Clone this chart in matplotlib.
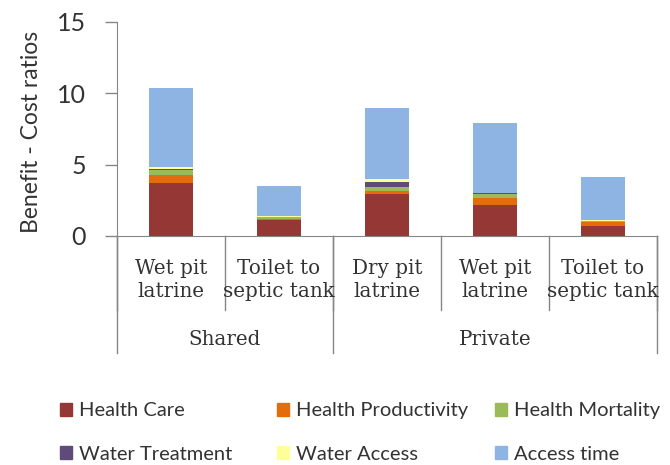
import matplotlib.pyplot as plt
from matplotlib.patches import Patch

# Categories (two-line labels) and groups
categories = ['Wet pit\nlatrine', 'Toilet to\nseptic tank', 'Dry pit\nlatrine',
              'Wet pit\nlatrine', 'Toilet to\nseptic tank']
groups = ['Shared', 'Private']
group_sizes = [2, 3]

# Stacked series values (benefit-cost ratios)
health_care = [3.7, 1.1, 2.95, 2.15, 0.7]
health_productivity = [0.55, 0.1, 0.2, 0.5, 0.25]
health_mortality = [0.4, 0.1, 0.3, 0.3, 0.1]
water_treatment = [0.05, 0.02, 0.35, 0.03, 0.02]
water_access = [0.15, 0.05, 0.2, 0.05, 0.05]
access_time = [5.55, 2.15, 4.95, 4.87, 2.98]

series = [
    ('Health Care', health_care, '#953735'),
    ('Health Productivity', health_productivity, '#E46C0A'),
    ('Health Mortality', health_mortality, '#9BBB59'),
    ('Water Treatment', water_treatment, '#604A7B'),
    ('Water Access', water_access, '#FFFF99'),
    ('Access time', access_time, '#8EB4E3'),
]

text_color = '#333333'
line_color = '#868686'

fig = plt.figure(figsize=(6.7, 4.65), dpi=100)
ax = fig.add_axes([0.1746, 0.4925, 0.806, 0.4602])

x = list(range(len(categories)))
bottom = [0.0] * len(categories)
for name, vals, color in series:
    ax.bar(x, vals, width=0.4, bottom=bottom, color=color, label=name, linewidth=0)
    bottom = [b + v for b, v in zip(bottom, vals)]

ax.set_xlim(-0.5, len(categories) - 0.5)
ax.set_ylim(0, 15)
ax.set_yticks([0, 5, 10, 15])
ax.tick_params(axis='y', direction='out', length=9, width=1, color=line_color,
               labelsize=18, pad=13.5, labelcolor=text_color)
ax.set_xticks([])
for side in ['top', 'right']:
    ax.spines[side].set_visible(False)
for side in ['left', 'bottom']:
    ax.spines[side].set_color(line_color)

ax.set_ylabel('Benefit - Cost ratios', fontsize=16.5, family='Lato', color=text_color)
ax.yaxis.set_label_coords(-0.139, 0.486)
for lab in ax.get_yticklabels():
    lab.set_family('Lato')

# category axis lines and labels below the plot
trans = ax.get_xaxis_transform()
for i in range(len(categories) + 1):
    ax.plot([i - 0.5, i - 0.5], [0, -0.346], transform=trans, color=line_color,
            lw=1, clip_on=False)
for i, lab in enumerate(categories):
    ax.text(i, -0.206, lab, transform=trans, ha='center', va='center',
            fontsize=14.3, family='DejaVu Serif', color=text_color, linespacing=1.3)

start = 0
for g, n in zip(groups, group_sizes):
    ax.plot([start - 0.5, start - 0.5], [0, -0.547], transform=trans,
            color=line_color, lw=1, clip_on=False)
    ax.text(start + (n - 1) / 2, -0.486, g, transform=trans, ha='center',
            va='center', fontsize=14.3, family='DejaVu Serif', color=text_color)
    start += n
ax.plot([start - 0.5, start - 0.5], [0, -0.547], transform=trans,
        color=line_color, lw=1, clip_on=False)

# legend: 3 columns of 2 rows, one legend per column
handles = [Patch(color=c, label=n) for n, _, c in series]
col_x = [60 / 670, 277 / 670, 495 / 670]
for j, cx in enumerate(col_x):
    hs = [handles[j], handles[j + 3]]
    fig.legend(hs, [h.get_label() for h in hs], loc='center left',
               bbox_to_anchor=(cx, 0.0699), frameon=False,
               handlelength=0.6, handleheight=0.6, handletextpad=0.35,
               labelspacing=1.3, borderpad=0, borderaxespad=0,
               prop={'family': 'Lato', 'size': 14.5}, labelcolor=text_color)

fig.savefig('out.png', dpi=100)
